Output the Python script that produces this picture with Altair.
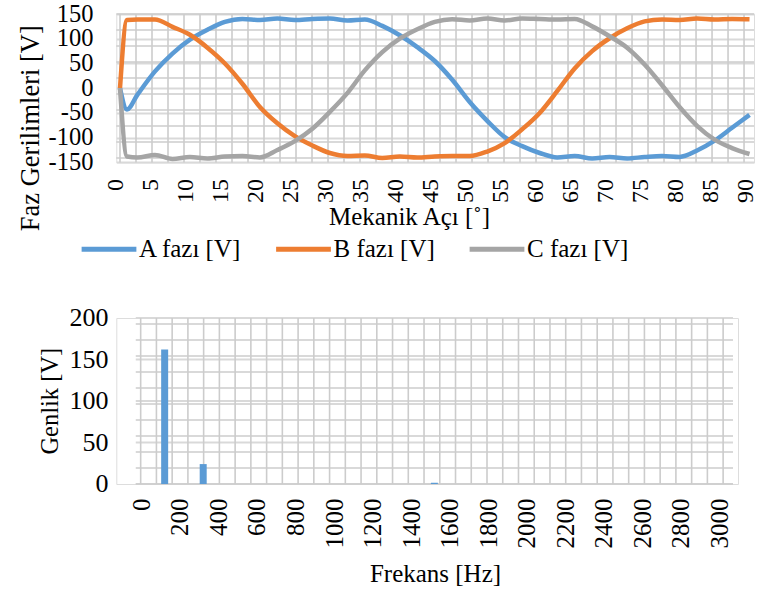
import altair as alt
import pandas as pd

# ---------------- data ----------------
angle = [0, 1, 2.5, 5, 7.5, 10, 12.5, 15, 17.5, 20, 22.5, 25, 27.5, 30, 32.5, 35, 37.5,
         40, 42.5, 45, 47.5, 50, 52.5, 55, 57.5, 60, 62.5, 65, 67.5, 70, 72.5, 75, 77.5,
         80, 82.5, 85, 87.5, 90]
phase_a = [0, -43, -13, 34, 70, 98, 118, 134, 140, 138, 141, 138, 140, 141, 137, 139, 126,
           107, 83, 55, 17, -28, -66, -99, -117, -131, -140, -137, -142, -139, -142, -139, -137,
           -139, -126, -106, -80, -54]
phase_b = [0, 138, 139, 139, 124, 108, 82, 50, 9, -38, -71, -97, -116, -131, -137, -136, -141,
           -138, -140, -138, -137, -137, -128, -111, -83, -50, -6, 40, 75, 101, 121, 135, 139,
           138, 141, 139, 140, 139.5]
phase_c = [0, -138, -140, -135, -143, -139, -142, -138, -137, -140, -125, -107, -82, -48, -10, 36, 73,
           100, 119, 134, 139.5, 137, 141, 137, 141, 140, 139, 140, 125, 105, 82, 48, 6,
           -38, -76, -104, -121, -133]
series_names = ["A fazı [V]", "B fazı [V]", "C fazı [V]"]
series_colors = ["#5B9BD5", "#ED7D31", "#A5A5A5"]

freq_hz = [100, 300, 1500]
amplitude = [162, 24, 1.5]

x_ticks_top = list(range(0, 91, 5))
y_ticks_top = list(range(-150, 151, 50))
x_ticks_bot = list(range(0, 3001, 200))
y_ticks_bot = list(range(0, 201, 50))

# ---------------- style ----------------
FONT = "Liberation Serif, Times New Roman, serif"
GRID_MAJOR = "#d9d9d9"
GRID_MINOR = "#cccccc"
BAR_COLOR = "#5B9BD5"
HYPHEN_LABEL = "datum.value < 0 ? '-' + abs(datum.value) : '' + datum.value"

lines_df = pd.DataFrame({
    "angle": angle * 3,
    "value": phase_a + phase_b + phase_c,
    "series": [n for n in series_names for _ in angle],
})

# background graph-paper grid (16 px pitch in the reference)
top_vgrid = pd.DataFrame({"gx": [2.2876 * k for k in range(40)]})
top_hgrid = pd.DataFrame({"gy": [150 - 32.35 * k for k in range(10)]})
bot_vgrid = pd.DataFrame({"gx": [-24.5 + 81.71 * k for k in range(38)]})
bot_hgrid = pd.DataFrame({"gy": [19.28 * k for k in range(11)], "x0": -50, "x1": 3050})
bot_major = pd.DataFrame({"gy": y_ticks_bot, "x0": -50, "x1": 3050})
one_row = pd.DataFrame({"k": [0]})

bars_df = pd.DataFrame({"freq": freq_hz, "amp": amplitude})

top_x = alt.Scale(domain=[-0.529, 90.64], nice=False, zero=False)
top_y = alt.Scale(domain=[-150, 150], nice=False, zero=False)
TOP_W, TOP_H = 637.7, 148.4

bot_x = alt.Scale(domain=[-125.07, 3050], nice=False, zero=False)
bot_y = alt.Scale(domain=[0, 200], nice=False, zero=False)
BOT_W, BOT_H = 621.7, 166

common_axis = dict(domain=False, ticks=False, tickSize=0, labelFont=FONT, titleFont=FONT,
                   titleFontWeight="normal", labelColor="black", titleColor="black",
                   labelFlush=False, labelOverlap=False, labelBound=False)

top_x_axis = alt.Axis(values=x_ticks_top, labelAngle=270, title="Mekanik Açı [˚]",
                      grid=False, labelPadding=16, labelFontSize=24, titleFontSize=25,
                      labelOffset=-4,
                      titleX=292.7, titleY=54.3, titleBaseline="middle", titleAlign="center",
                      **common_axis)
top_y_axis = alt.Axis(values=y_ticks_top, title="Faz Gerilimleri [V]", grid=True,
                      gridColor=GRID_MAJOR, gridWidth=2.2, labelPadding=23.3,
                      labelFontSize=24.5, titleFontSize=26.5, titleAngle=270,
                      labelExpr=HYPHEN_LABEL,
                      titleX=-77.8, titleY=113.7, titleBaseline="alphabetic",
                      titleAlign="center", **common_axis)
bot_x_axis = alt.Axis(values=x_ticks_bot, labelAngle=270, title="Frekans [Hz]", format="d",
                      grid=False, labelPadding=14, labelFontSize=25, titleFontSize=25,
                      labelOffset=-4,
                      titleX=318.7, titleY=89.7, titleBaseline="middle", titleAlign="center",
                      **common_axis)
bot_y_axis = alt.Axis(values=y_ticks_bot, title="Genlik [V]", grid=False,
                      labelPadding=8.3, labelFontSize=26, titleFontSize=24.5, titleAngle=270,
                      titleX=-58.5, titleY=82.7, titleBaseline="alphabetic",
                      titleAlign="center", **common_axis)

# ---------------- top chart ----------------
tv = alt.Chart(top_vgrid).mark_rule(color=GRID_MINOR, strokeWidth=1.6).encode(
    x=alt.X("gx:Q", scale=top_x, axis=top_x_axis))
th = alt.Chart(top_hgrid).mark_rule(color=GRID_MINOR, strokeWidth=1.6).encode(
    y=alt.Y("gy:Q", scale=top_y, axis=top_y_axis))
# invisible extent marker so that both panels share the same layout box
top_box = alt.Chart(one_row).mark_rule(opacity=0).encode(
    x=alt.value(-110), x2=alt.value(-109), y=alt.value(-12.3), y2=alt.value(275))

top_lines = alt.Chart(lines_df).mark_line(strokeWidth=4.5, interpolate="monotone").encode(
    x=alt.X("angle:Q", scale=top_x, axis=top_x_axis),
    y=alt.Y("value:Q", scale=top_y, axis=top_y_axis),
    color=alt.Color("series:N", scale=alt.Scale(domain=series_names, range=series_colors),
                    legend=alt.Legend(title=None, orient="none", legendX=-37.3, legendY=205.3,
                                      direction="horizontal", columns=3, padding=0,
                                      symbolType="stroke", symbolSize=3000,
                                      symbolStrokeWidth=5, labelFontSize=25,
                                      labelFont=FONT, labelColor="black",
                                      columnPadding=23.5, labelOffset=0)),
)

top = alt.layer(top_box, th, tv, top_lines).properties(width=TOP_W, height=TOP_H)

# ---------------- bottom chart ----------------
bmaj = alt.Chart(bot_major).mark_rule(color=GRID_MAJOR, strokeWidth=2.2).encode(
    y=alt.Y("gy:Q", scale=bot_y, axis=bot_y_axis),
    x=alt.X("x0:Q", scale=bot_x, axis=bot_x_axis), x2="x1:Q")
bh = alt.Chart(bot_hgrid).mark_rule(color=GRID_MINOR, strokeWidth=1.6).encode(
    y=alt.Y("gy:Q", scale=bot_y, axis=bot_y_axis),
    x=alt.X("x0:Q", scale=bot_x, axis=bot_x_axis), x2="x1:Q")
bv = alt.Chart(bot_vgrid).mark_rule(color=GRID_MINOR, strokeWidth=1.6).encode(
    x=alt.X("gx:Q", scale=bot_x, axis=bot_x_axis))
bot_box = alt.Chart(one_row).mark_rule(opacity=0).encode(
    x=alt.value(-110), x2=alt.value(-109), y=alt.value(-20), y2=alt.value(-20))

bars = alt.Chart(bars_df).mark_bar(size=7, color=BAR_COLOR).encode(
    x=alt.X("freq:Q", scale=bot_x, axis=bot_x_axis),
    y=alt.Y("amp:Q", scale=bot_y, axis=bot_y_axis),
)

bottom = alt.layer(bot_box, bmaj, bh, bv, bars).properties(width=BOT_W, height=BOT_H)

chart = alt.vconcat(top, bottom, spacing=7).resolve_scale(
    color="independent").resolve_legend(color="independent").properties(
    padding={"left": 5.3, "top": 0, "right": 0, "bottom": 0}
).configure_view(stroke=None).configure(font=FONT, background="white")

chart.save("out.html", embed_options={"renderer": "svg", "actions": False})
